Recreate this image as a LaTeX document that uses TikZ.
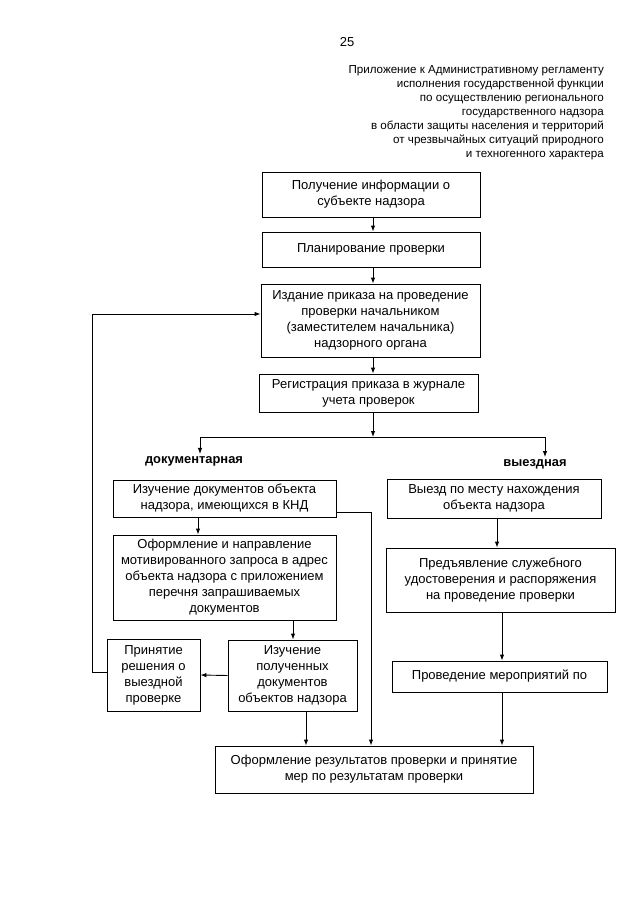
\documentclass[tikz,border=0pt]{standalone}
\usepackage{fontspec}
\setmainfont{Liberation Sans}
\usetikzlibrary{arrows.meta,calc}
\begin{document}
\begin{tikzpicture}[x=1pt,y=-1pt,
  box/.style={draw,line width=0.9pt,rectangle,inner sep=0pt,align=center,
    font=\fontsize{13}{16}\selectfont},
  lnk/.style={line width=0.9pt},
  arr/.style={line width=0.9pt,-{Latex[length=6pt,width=4.5pt]}},
  hdr/.style={anchor=base east,inner sep=0pt,font=\fontsize{11.6}{14}\selectfont},
  lbl/.style={inner sep=0pt,font=\bfseries\fontsize{12.9}{14}\selectfont}]
\useasboundingbox (0,0) rectangle (640,905);
% header
\node[inner sep=0pt,font=\fontsize{13}{14}\selectfont] (pg) at (347,42) {25};
\node[hdr] (h1) at (604,73) {Приложение к Административному регламенту};
\node[hdr] (h2) at (604,87) {исполнения государственной функции};
\node[hdr] (h3) at (604,101) {по осуществлению регионального};
\node[hdr] (h4) at (604,115) {государственного надзора};
\node[hdr] (h5) at (604,129) {в области защиты населения и территорий};
\node[hdr] (h6) at (604,143) {от чрезвычайных ситуаций природного};
\node[hdr] (h7) at (604,157) {и техногенного характера};
% boxes
\node[box,minimum width=218pt,minimum height=45pt] (b1) at (371,194.5) {Получение информации о\\субъекте надзора};
\node[box,minimum width=218pt,minimum height=35pt] (b2) at (371,249.5) {Планирование проверки};
\node[box,minimum width=219pt,minimum height=73pt] (b3) at (370.5,320.5) {Издание приказа на проведение\\проверки начальником\\(заместителем начальника)\\надзорного органа};
\node[box,minimum width=219pt,minimum height=38pt] (b4) at (368.5,393) {Регистрация приказа в журнале\\учета проверок};
\node[lbl] (ld) at (194,461) {документарная};
\node[lbl] (lv) at (535,464) {выездная};
\node[box,minimum width=223pt,minimum height=37pt] (b5) at (224.5,498.5) {Изучение документов объекта\\надзора, имеющихся в КНД};
\node[box,minimum width=223pt,minimum height=85pt] (b6) at (224.5,577.5) {Оформление и направление\\мотивированного запроса в адрес\\объекта надзора с приложением\\перечня запрашиваемых\\документов};
\node[box,minimum width=129pt,minimum height=71pt] (b7) at (292.5,675.5) {Изучение\\полученных\\документов\\объектов надзора};
\node[box,minimum width=93pt,minimum height=72pt] (b8) at (153.5,675) {Принятие\\решения о\\выездной\\проверке};
\node[box,minimum width=214pt,minimum height=39pt] (b9) at (494,498.5) {Выезд по месту нахождения\\объекта надзора};
\node[box,minimum width=229pt,minimum height=64pt] (b10) at (500.5,580) {Предъявление служебного\\удостоверения и распоряжения\\на проведение проверки};
\node[box,minimum width=215pt,minimum height=31pt] (b11) at (499.5,676.5) {Проведение мероприятий по};
\node[box,minimum width=318pt,minimum height=47pt] (fin) at (374,769.5) {Оформление результатов проверки и принятие\\мер по результатам проверки};
% helper coordinates
\coordinate (cx) at (373,0);
\coordinate (split) at (373,437);
\coordinate (sl) at (200,437);
\coordinate (sr) at (545,437);
\coordinate (dx) at (198,0);
\coordinate (ex) at (293,0);
\coordinate (fx) at (306,0);
\coordinate (vx) at (371,512);
\coordinate (rx) at (502,0);
\coordinate (qx) at (497,0);
\coordinate (fbl) at (92,672);
\coordinate (fbt) at (92,314);
% connectors
\draw[arr] (b1.south -| cx) -- (b2.north -| cx);
\draw[arr] (b2.south -| cx) -- (b3.north -| cx);
\draw[arr] (b3.south -| cx) -- (b4.north -| cx);
\draw[arr] (b4.south -| cx) -- (split);
\draw[lnk] (sl) -- (sr);
\draw[arr] (sl) -- ($(ld.north -| sl)+(0,-2)$);
\draw[arr] (sr) -- ($(lv.north -| sr)+(0,-2)$);
\draw[arr] (b5.south -| dx) -- (b6.north -| dx);
\draw[arr] (b6.south -| ex) -- (b7.north -| ex);
\draw[arr] (b7.west) -- (b8.east);
\draw[arr] (b7.south -| fx) -- (fin.north -| fx);
\draw[arr] (b5.east |- vx) -- (vx) -- (fin.north -| vx);
\draw[arr] (b8.west |- fbl) -- (fbl) -- (fbt) -- (b3.west |- fbt);
\draw[arr] (b9.south -| qx) -- (b10.north -| qx);
\draw[arr] (b10.south -| rx) -- (b11.north -| rx);
\draw[arr] (b11.south -| rx) -- (fin.north -| rx);
\end{tikzpicture}
\end{document}
